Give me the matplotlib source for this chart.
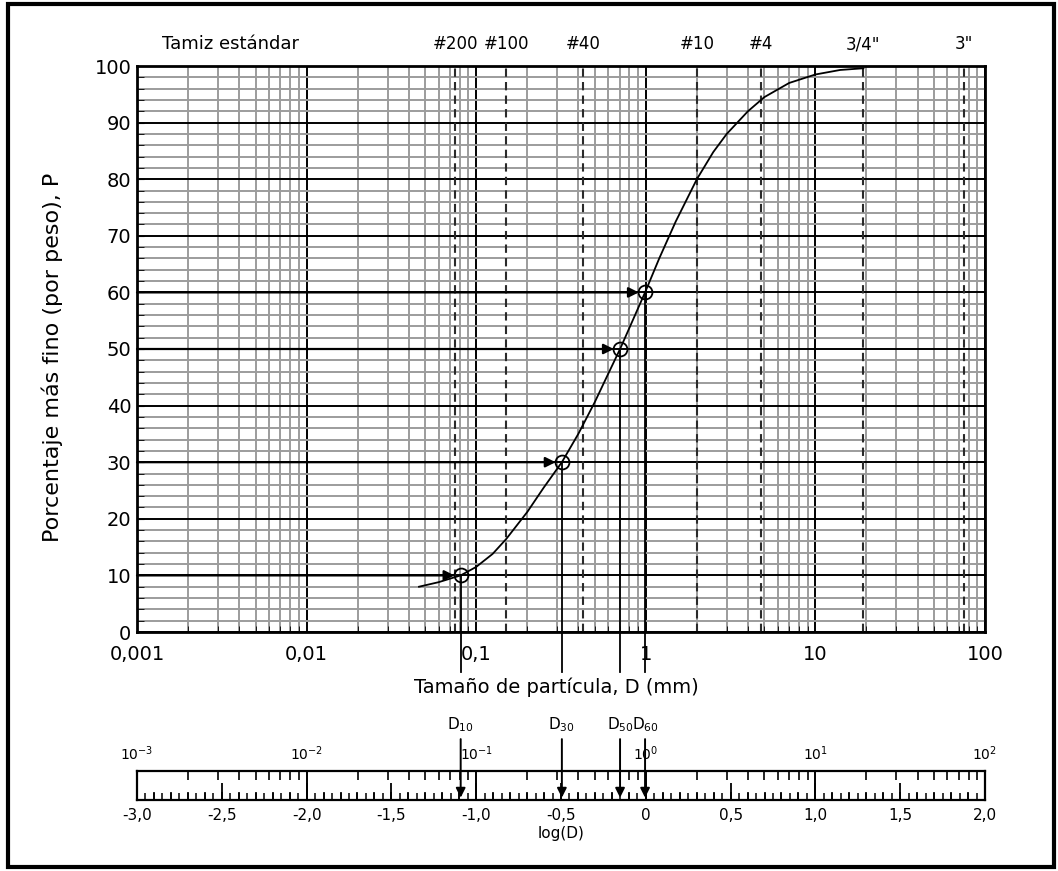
import numpy as np
import matplotlib.pyplot as plt
from matplotlib import transforms
from matplotlib.patches import Rectangle
from matplotlib.ticker import MultipleLocator, LogLocator, NullFormatter

# gradation curve (D in mm, P in %)
d_curve = [0.046, 0.06, 0.081, 0.1, 0.125, 0.15, 0.2, 0.25, 0.32, 0.4,
           0.5, 0.6, 0.705, 0.85, 0.99, 1.2, 1.5, 2.0, 2.5, 3.0, 4.0,
           5.0, 7.0, 10.0, 14.0, 19.2]
p_curve = [8.0, 8.8, 10.0, 11.5, 13.8, 16.4, 21.2, 25.5, 30.0, 35.0,
           40.6, 45.6, 50.0, 55.5, 60.0, 66.0, 72.5, 80.0, 84.8, 88.0, 92.0,
           94.5, 97.0, 98.5, 99.3, 99.6]

# characteristic diameters
d_names = ["10", "30", "50", "60"]
d_values = [0.081, 0.32, 0.705, 0.99]
p_values = [10, 30, 50, 60]

# standard sieves
sieve_names = ["#200", "#100", "#40", "#10", "#4", '3/4"', '3"']
sieve_sizes = [0.075, 0.15, 0.425, 2.0, 4.75, 19.0, 75.0]

x_ticks = [0.001, 0.01, 0.1, 1, 10, 100]
x_ticklabels = ["0,001", "0,01", "0,1", "1", "10", "100"]
y_ticks = [0, 10, 20, 30, 40, 50, 60, 70, 80, 90, 100]

log_ticks = [-3.0, -2.5, -2.0, -1.5, -1.0, -0.5, 0.0, 0.5, 1.0, 1.5, 2.0]
log_ticklabels = ["-3,0", "-2,5", "-2,0", "-1,5", "-1,0", "-0,5", "0",
                  "0,5", "1,0", "1,5", "2,0"]
decades = [-3, -2, -1, 0, 1, 2]

W, H = 1058, 871
fig = plt.figure(figsize=(W / 100, H / 100), dpi=100)

# ---------------- main chart ----------------
ax = fig.add_axes([137 / W, (H - 632) / H, 848 / W, 566 / H])
ax.set_xscale("log")
ax.set_xlim(0.001, 100)
ax.set_ylim(0, 100)
ax.set_xticks(x_ticks)
ax.set_xticklabels(x_ticklabels)
ax.set_yticks(y_ticks)
ax.xaxis.set_minor_locator(LogLocator(base=10, subs=np.arange(2, 10)))
ax.xaxis.set_minor_formatter(NullFormatter())
ax.yaxis.set_minor_locator(MultipleLocator(2))
ax.tick_params(axis="both", which="both", direction="in", labelsize=14)
ax.tick_params(axis="x", which="major", length=0, pad=9)
ax.tick_params(axis="x", which="minor", length=4)
ax.tick_params(axis="y", which="both", length=5, pad=4)
ax.grid(which="minor", color="#9c9c9c", lw=1.4)
ax.grid(which="major", color="black", lw=1.4)
ax.set_axisbelow(True)
for sp in ax.spines.values():
    sp.set_linewidth(2)

for s in sieve_sizes:
    ax.axvline(s, color="#2a2a2a", lw=1.5, ls=(0, (4, 2.5)))

trans = transforms.blended_transform_factory(ax.transData, ax.transAxes)
for name, s in zip(sieve_names, sieve_sizes):
    ax.text(s, 1.038, name, transform=trans, ha="center", va="center",
            fontsize=12)
ax.text(0.11, 1.038, "Tamiz estándar", transform=ax.transAxes,
        ha="center", va="center", fontsize=13)

ax.plot(d_curve, p_curve, color="black", lw=1.3)

for d, p in zip(d_values, p_values):
    ax.annotate("", xy=(d, p), xytext=(0.001, p),
                arrowprops=dict(arrowstyle="-|>", color="black", lw=1.6,
                                shrinkA=0, shrinkB=4.5, mutation_scale=15))
    ax.plot([d, d], [p, -7], color="black", lw=1.3, clip_on=False)
ax.plot(d_values, p_values, "o", mfc="none", mec="black", ms=10, mew=1.3)

for name, d in zip(d_names, d_values):
    ax.text(d, -16.3, r"D$_{%s}$" % name, ha="center", va="center",
            fontsize=11, clip_on=False)

ax.set_xlabel("Tamaño de partícula, D (mm)", fontsize=14)
ax.xaxis.set_label_coords(0.495, -0.08)
ax.set_ylabel("Porcentaje más fino (por peso), P", fontsize=16)
ax.yaxis.set_label_coords(-0.087, 0.485)

# ---------------- log(D) scale ----------------
ax2 = fig.add_axes([137 / W, 71 / H, 848 / W, 29 / H])
ax2.set_xlim(-3, 2)
ax2.set_ylim(0, 1)
ax2.set_yticks([])
ax2.set_xticks(log_ticks)
ax2.set_xticklabels(log_ticklabels)
ax2.xaxis.set_minor_locator(MultipleLocator(0.05))
ax2.tick_params(axis="x", which="major", direction="in", length=12,
                width=1.3, labelsize=11, pad=6)
ax2.tick_params(axis="x", which="minor", direction="in", length=5, width=1.1)
for sp in ax2.spines.values():
    sp.set_linewidth(1.6)

tenths = [v / 10 for v in range(-30, 21)]
ax2.vlines(tenths, 0, 0.28, color="black", lw=1.2)
sub_log = [np.log10(k * 10.0 ** n) for n in decades[:-1] for k in range(2, 10)]
ax2.vlines(sub_log, 0.68, 1, color="black", lw=1.2)
ax2.vlines(decades[1:-1], 0, 1, color="black", lw=1.4)
for n in decades:
    ax2.text(n, 1.6, r"$10^{%d}$" % n, ha="center", va="center", fontsize=10)

for d in d_values:
    ax2.annotate("", xy=(np.log10(d), 0.08), xytext=(np.log10(d), 2.1),
                 arrowprops=dict(arrowstyle="-|>", color="black", lw=1.4,
                                 shrinkA=0, shrinkB=0, mutation_scale=14),
                 annotation_clip=False)

ax2.set_xlabel("log(D)", fontsize=11, labelpad=2)

fig.patches.append(Rectangle((8 / W, 4 / H), 1046 / W, 863 / H,
                             transform=fig.transFigure, fill=False,
                             ec="black", lw=3))

fig.savefig("out.png", dpi=100)
